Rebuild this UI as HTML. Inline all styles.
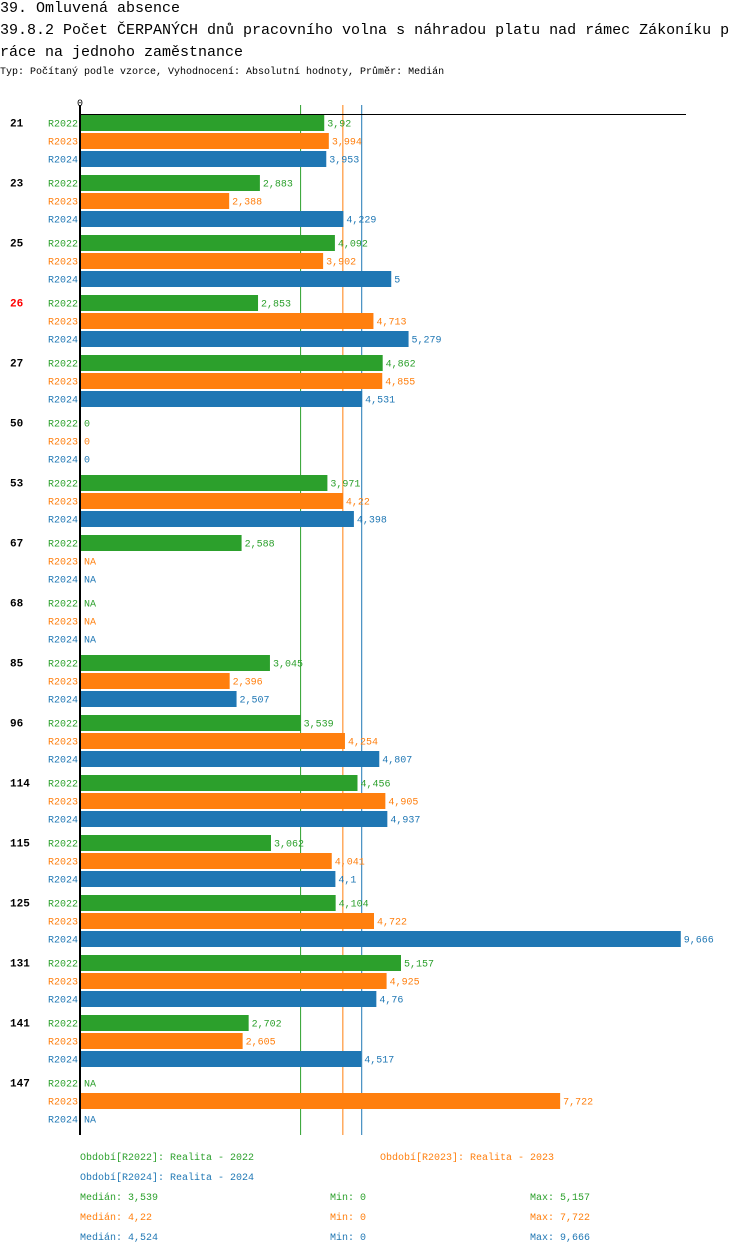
<!DOCTYPE html>
<html><head><meta charset="utf-8"><style>
body{margin:0;background:#fff;width:750px;height:1254px;overflow:hidden;font-family:"Liberation Mono",monospace}
.t{position:absolute;left:0;white-space:nowrap;color:#000}
</style></head><body>
<div class="t" style="top:0;font-size:15px;line-height:17px">39. Omluvená absence</div>
<div class="t" style="top:20px;font-size:15px;line-height:22px">39.8.2 Počet ČERPANÝCH dnů pracovního volna s náhradou platu nad rámec Zákoníku p<br>ráce na jednoho zaměstnance</div>
<div class="t" style="top:66px;font-size:10px;line-height:14px">Typ: Počítaný podle vzorce, Vyhodnocení: Absolutní hodnoty, Průměr: Medián</div>
<svg id="c" width="750" height="1254" style="position:absolute;left:0;top:0"></svg>
<script>
const groups=["21","23","25","26","27","50","53","67","68","85","96","114","115","125","131","141","147"];
const seriesNames=["R2022","R2023","R2024"];
const v2022=[3.92,2.883,4.092,2.853,4.862,0,3.971,2.588,null,3.045,3.539,4.456,3.062,4.104,5.157,2.702,null];
const v2023=[3.994,2.388,3.902,4.713,4.855,0,4.22,null,null,2.396,4.254,4.905,4.041,4.722,4.925,2.605,7.722];
const v2024=[3.953,4.229,5,5.279,4.531,0,4.398,null,null,2.507,4.807,4.937,4.1,9.666,4.76,4.517,null];
const medians=[3.539,4.22,4.524];
const mins=[0,0,0];
const maxs=[5.157,7.722,9.666];
const legendText=["Období[R2022]: Realita - 2022","Období[R2023]: Realita - 2023","Období[R2024]: Realita - 2024"];
const highlight="26";
const colors=["#2ca02c","#ff7f0e","#1f77b4"];
const svg=document.getElementById('c');const NS="http://www.w3.org/2000/svg";
const X0=81,K=62.05,Y0=114,GP=60,BP=18,BH=16;
const x=v=>X0+v*K;
const fmt=v=>String(v).replace('.',',');
function el(t,a,txt){const e=document.createElementNS(NS,t);for(const k in a)e.setAttribute(k,a[k]);if(txt!=null)e.textContent=txt;svg.appendChild(e);return e;}
const all=[v2022,v2023,v2024];
const yEnd=Y0+groups.length*GP;
medians.forEach((m,i)=>{const l=el('line',{x1:x(m),x2:x(m),y1:105,y2:yEnd+1,stroke:colors[i],'stroke-width':1});

});
groups.forEach((g,gi)=>{
  const gy=Y0+gi*GP;
  const gl=el('text',{x:10,y:gy+12.5,'font-size':11,'font-weight':'bold',fill:g===highlight?'#ff0000':'#000','font-family':'Liberation Mono, monospace'},g);
  
  
  all.forEach((arr,si)=>{
    const by=gy+si*BP+1, v=arr[gi];
    const sl=el('text',{x:78,y:by+11.5,'font-size':10,'text-anchor':'end',fill:colors[si],'font-family':'Liberation Mono, monospace'},seriesNames[si]);
    
    
    if(v!=null&&v>0){const r=el('rect',{x:X0,y:by,width:x(v)-X0,height:BH,fill:colors[si]});
      
      }
    const vl=el('text',{x:(v?x(v):X0)+3,y:by+11.5,'font-size':10,fill:colors[si],'font-family':'Liberation Mono, monospace'},v==null?'NA':fmt(v));
    
    
  });
});
const ax=el('line',{x1:80,x2:80,y1:105,y2:yEnd+1,stroke:'#000','stroke-width':2});


const tl=el('line',{x1:80,x2:686,y1:114.5,y2:114.5,stroke:'#000','stroke-width':1});


const z=el('text',{x:80,y:106,'font-size':10,'text-anchor':'middle','font-family':'Liberation Mono, monospace'},'0');


const lp=[[80,1160],[380,1160],[80,1180]];
legendText.forEach((t,i)=>{const e=el('text',{x:lp[i][0],y:lp[i][1],'font-size':10,fill:colors[i],'font-family':'Liberation Mono, monospace'},t);

});
seriesNames.forEach((s,i)=>{const y=1200+i*20;
const a=el('text',{x:80,y:y,'font-size':10,fill:colors[i],'font-family':'Liberation Mono, monospace'},'Medián: '+fmt(medians[i]));


const b=el('text',{x:330,y:y,'font-size':10,fill:colors[i],'font-family':'Liberation Mono, monospace'},'Min: '+fmt(mins[i]));


const c=el('text',{x:530,y:y,'font-size':10,fill:colors[i],'font-family':'Liberation Mono, monospace'},'Max: '+fmt(maxs[i]));

});
</script>
</body></html>
